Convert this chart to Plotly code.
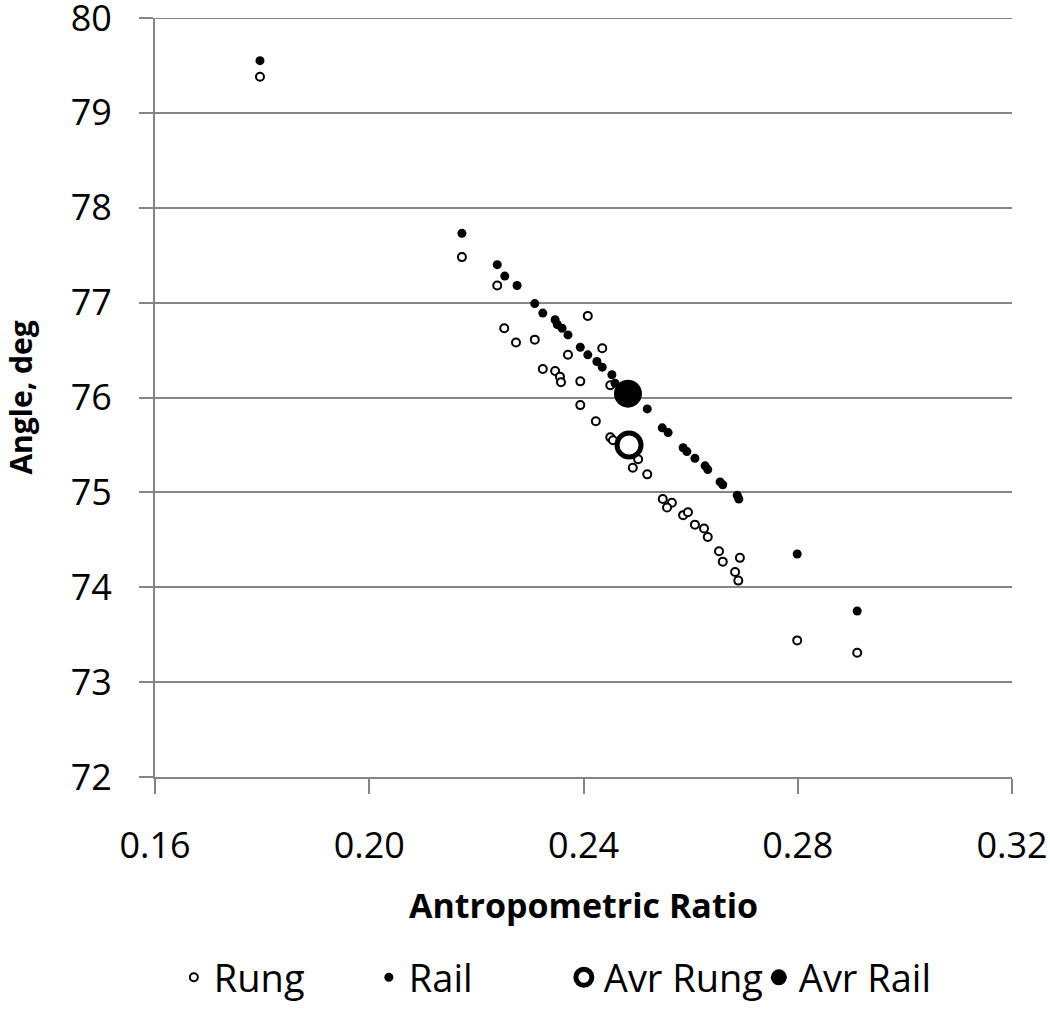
import plotly.graph_objects as go

rung_ratio = [0.1796, 0.2173, 0.2239, 0.2252, 0.2274, 0.2309, 0.2408, 0.2371, 0.2435,
              0.2324, 0.2347, 0.2356, 0.2358, 0.2394, 0.2450, 0.2394, 0.2423, 0.2450,
              0.2455, 0.2502, 0.2492, 0.2519, 0.2548, 0.2565, 0.2556, 0.2586, 0.2595,
              0.2608, 0.2625, 0.2632, 0.2653, 0.2660, 0.2692, 0.2683, 0.2689, 0.2799,
              0.2911]
rung_angle = [79.38, 77.48, 77.18, 76.73, 76.58, 76.61, 76.86, 76.45, 76.52,
              76.30, 76.28, 76.22, 76.16, 76.17, 76.13, 75.92, 75.75, 75.58,
              75.55, 75.35, 75.26, 75.19, 74.93, 74.89, 74.84, 74.76, 74.79,
              74.66, 74.62, 74.53, 74.38, 74.27, 74.31, 74.16, 74.07, 73.44,
              73.31]

rail_ratio = [0.1796, 0.2173, 0.2239, 0.2253, 0.2276, 0.2309, 0.2324, 0.2347, 0.2351,
              0.2360, 0.2371, 0.2394, 0.2408, 0.2425, 0.2435, 0.2453, 0.2459, 0.2519,
              0.2547, 0.2558, 0.2586, 0.2593, 0.2608, 0.2627, 0.2632, 0.2655, 0.2660,
              0.2687, 0.2690, 0.2799, 0.2911]
rail_angle = [79.55, 77.73, 77.40, 77.28, 77.18, 76.99, 76.89, 76.82, 76.77,
              76.73, 76.66, 76.53, 76.45, 76.38, 76.32, 76.24, 76.15, 75.88,
              75.68, 75.63, 75.47, 75.43, 75.36, 75.28, 75.24, 75.11, 75.08,
              74.97, 74.93, 74.35, 73.75]

# averages
avr_rung_ratio = [0.2485]
avr_rung_angle = [75.50]
avr_rail_ratio = [0.2483]
avr_rail_angle = [76.04]

x_ticks = [0.16, 0.20, 0.24, 0.28, 0.32]
x_tick_labels = ["0.16", "0.20", "0.24", "0.28", "0.32"]
y_ticks = [72, 73, 74, 75, 76, 77, 78, 79, 80]

FONT = "Open Sans, Lato, sans-serif"
GRID = "#858585"

fig = go.Figure()
fig.add_trace(go.Scatter(x=rung_ratio, y=rung_angle, mode="markers", name="Rung",
                         marker=dict(symbol="circle", size=8, color="white",
                                     line=dict(color="black", width=2))))
fig.add_trace(go.Scatter(x=rail_ratio, y=rail_angle, mode="markers", name="Rail",
                         marker=dict(symbol="circle", size=9, color="black",
                                     line=dict(width=0))))
fig.add_trace(go.Scatter(x=avr_rung_ratio, y=avr_rung_angle, mode="markers", name="Avr Rung",
                         marker=dict(symbol="circle", size=24, color="white",
                                     line=dict(color="black", width=5))))
fig.add_trace(go.Scatter(x=avr_rail_ratio, y=avr_rail_angle, mode="markers", name="Avr Rail",
                         marker=dict(symbol="circle", size=28, color="black",
                                     line=dict(width=0))))

# top gridline at 80 (plotly drops the grid line sitting on the range edge)
fig.add_hline(y=80, line=dict(color=GRID, width=2), layer="below")

fig.update_layout(
    width=1050, height=1012,
    margin=dict(l=155, r=38, t=18, b=235),
    paper_bgcolor="white", plot_bgcolor="white",
    font=dict(family=FONT, color="black"),
    showlegend=True,
    # legend placed in container coords so it doesn't push the bottom margin
    legend=dict(orientation="h", xref="container", x=0.537, xanchor="center",
                yref="container", y=0.034, yanchor="middle",
                font=dict(size=38), itemsizing="trace", traceorder="normal",
                itemwidth=30, entrywidth=150),
)
fig.update_xaxes(
    range=[0.16, 0.32], tickvals=x_ticks, ticktext=x_tick_labels,
    automargin=False,
    showgrid=False, zeroline=False,
    showline=True, linecolor=GRID, linewidth=2,
    ticks="outside", ticklen=15, tickwidth=2, tickcolor=GRID,
    tickfont=dict(size=36), ticklabelstandoff=21, ticklabeloverflow="allow",
    title=dict(text="<b>Antropometric Ratio</b>", font=dict(size=34), standoff=26),
)
fig.update_yaxes(
    range=[72, 80], tickvals=y_ticks,
    automargin=False,
    showgrid=True, gridcolor=GRID, gridwidth=2, zeroline=False,
    showline=True, linecolor=GRID, linewidth=2,
    ticks="outside", ticklen=14, tickwidth=2, tickcolor=GRID,
    tickfont=dict(size=36), ticklabelstandoff=20, ticklabeloverflow="allow",
    title=dict(text="<b>Angle, deg</b>", font=dict(size=30), standoff=67),
)

# drop the browser's default 8px body margin so the figure sits at the corner
fig.write_html("out.html", config={"displayModeBar": False},
               post_script="document.body.style.margin='0';")
